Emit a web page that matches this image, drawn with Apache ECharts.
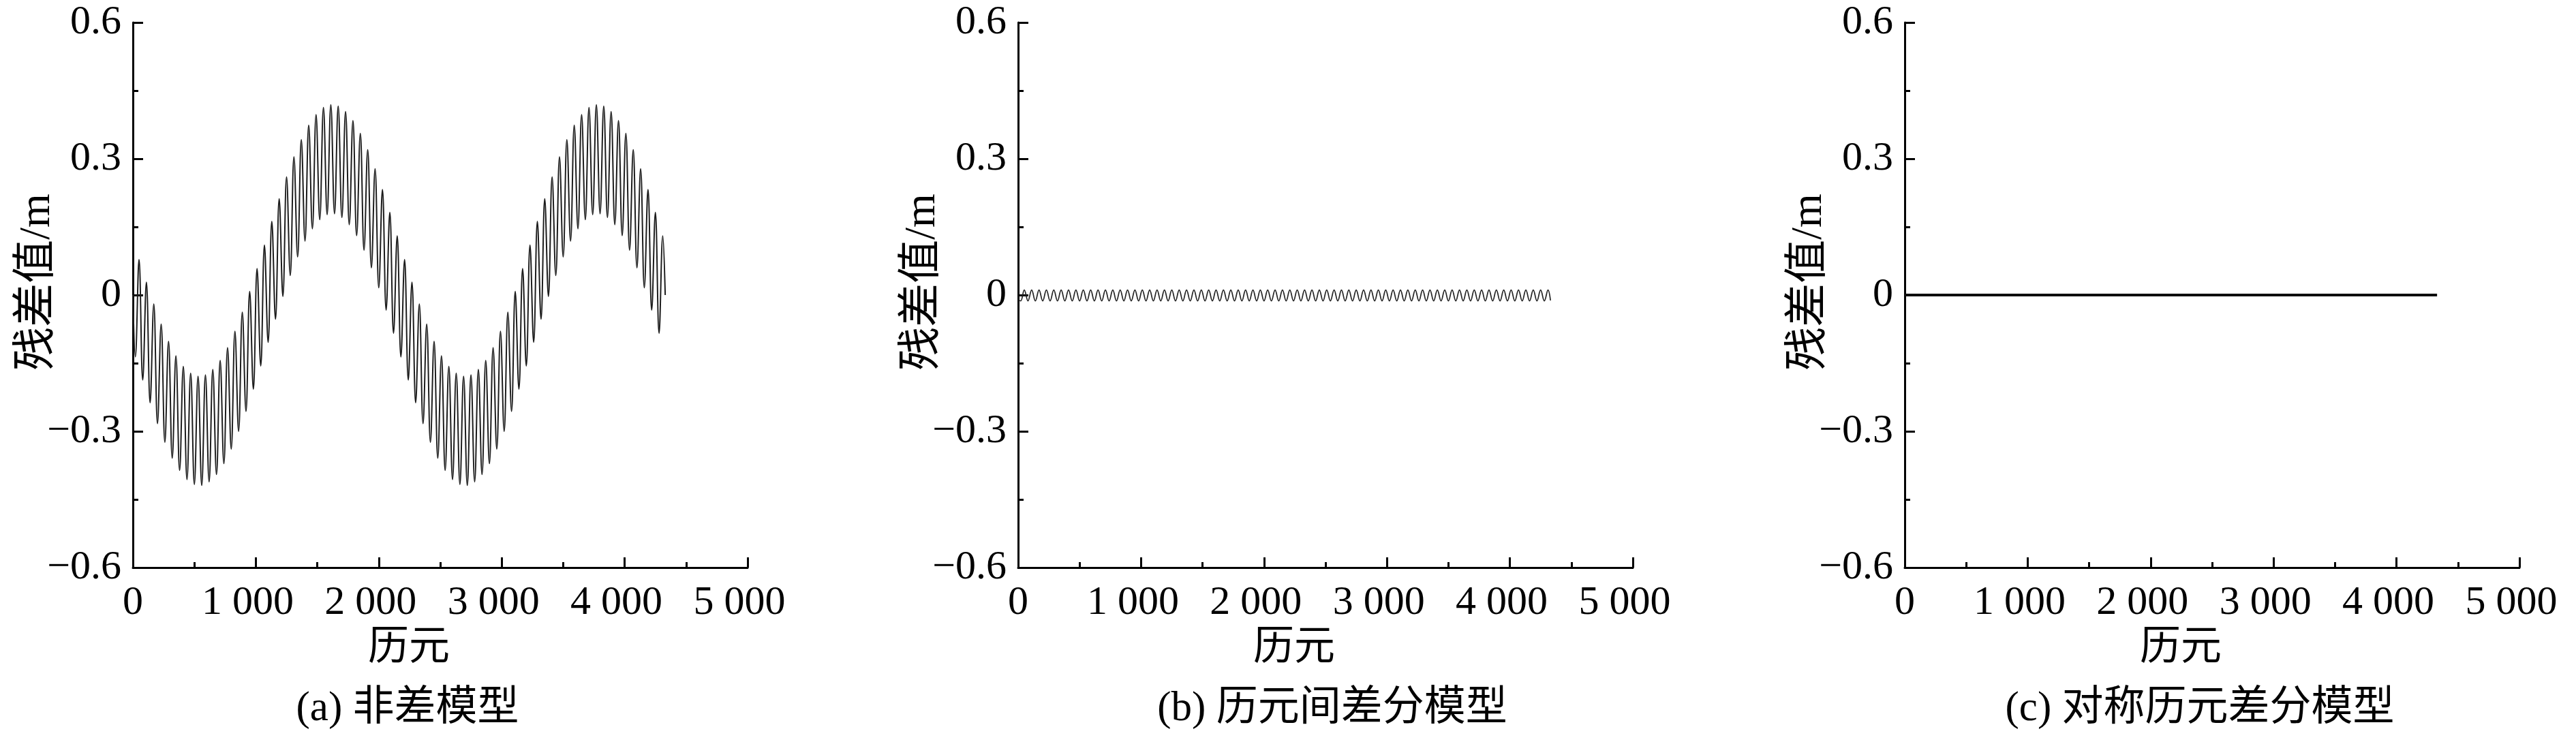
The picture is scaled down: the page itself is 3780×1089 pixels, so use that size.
<!DOCTYPE html>
<html>
<head>
<meta charset="utf-8">
<script src="https://cdn.jsdelivr.net/npm/echarts@6/dist/echarts.min.js"></script>
<style>
html,body{margin:0;padding:0;background:#fff;}
#chart{width:3780px;height:1089px;}
</style>
</head>
<body>
<div id="chart"></div>
<script>
// ---------- data ----------
// epochs at which the residual curves of panels (a) and (b) turn (start, extremes, end)
const epochs = [0,
  20,50,80,110,140,170,200,230,260,290,320,350,380,410,440,470,500,530,560,590,
  620,650,680,710,740,770,800,830,860,890,920,950,980,1010,1040,1070,1100,1130,1160,1190,
  1220,1250,1280,1310,1340,1370,1400,1430,1460,1490,1520,1550,1580,1610,1640,1670,1700,1730,1760,1790,
  1820,1850,1880,1910,1940,1970,2000,2030,2060,2090,2120,2150,2180,2210,2240,2270,2300,2330,2360,2390,
  2420,2450,2480,2510,2540,2570,2600,2630,2660,2690,2720,2750,2780,2810,2840,2870,2900,2930,2960,2990,
  3020,3050,3080,3110,3140,3170,3200,3230,3260,3290,3320,3350,3380,3410,3440,3470,3500,3530,3560,3590,
  3620,3650,3680,3710,3740,3770,3800,3830,3860,3890,3920,3950,3980,4010,4040,4070,4100,4130,4160,4190,
  4220,4250,4280,4310,
  4330];

// (a) 非差模型 residuals (m)
const residualA = [0.000,
  -0.136,0.078,-0.187,0.028,-0.237,-0.020,-0.283,-0.064,-0.324,-0.102,-0.359,-0.134,-0.386,-0.157,-0.406,-0.172,-0.417,-0.179,-0.419,-0.176,
  -0.411,-0.164,-0.395,-0.144,-0.371,-0.116,-0.339,-0.080,-0.300,-0.038,-0.256,0.008,-0.207,0.058,-0.156,0.110,-0.104,0.162,-0.053,0.212,
  -0.003,0.260,0.043,0.304,0.084,0.342,0.119,0.374,0.146,0.397,0.166,0.413,0.177,0.419,0.179,0.416,0.171,0.404,0.155,0.384,
  0.131,0.356,0.099,0.320,0.060,0.278,0.016,0.232,-0.033,0.182,-0.084,0.130,
  -0.136,0.078,-0.187,0.028,-0.237,-0.020,-0.283,-0.064,-0.324,-0.102,-0.359,-0.134,-0.386,-0.157,-0.406,-0.172,-0.417,-0.179,-0.419,-0.176,
  -0.411,-0.164,-0.395,-0.144,-0.371,-0.116,-0.339,-0.080,-0.300,-0.038,-0.256,0.008,-0.207,0.058,-0.156,0.110,-0.104,0.162,-0.053,0.212,
  -0.003,0.260,0.043,0.304,0.084,0.342,0.119,0.374,0.146,0.397,0.166,0.413,0.177,0.419,0.179,0.416,0.171,0.404,0.155,0.384,
  0.131,0.356,0.099,0.320,0.060,0.278,0.016,0.232,-0.033,0.182,-0.084,0.130,
  0.000];

// (b) 历元间差分模型 residuals (m)
const residualB = [-0.010,
  -0.013,0.011,-0.013,0.011,-0.013,0.011,-0.013,0.011,-0.013,0.011,-0.013,0.011,-0.013,0.011,-0.013,0.011,-0.013,0.011,-0.013,0.011,
  -0.013,0.011,-0.013,0.011,-0.013,0.011,-0.013,0.011,-0.013,0.011,-0.013,0.011,-0.013,0.011,-0.013,0.011,-0.013,0.011,-0.013,0.011,
  -0.013,0.011,-0.013,0.011,-0.013,0.011,-0.013,0.011,-0.013,0.011,-0.013,0.011,-0.013,0.011,-0.013,0.011,-0.013,0.011,-0.013,0.011,
  -0.013,0.011,-0.013,0.011,-0.013,0.011,-0.013,0.011,-0.013,0.011,-0.013,0.011,
  -0.013,0.011,-0.013,0.011,-0.013,0.011,-0.013,0.011,-0.013,0.011,-0.013,0.011,-0.013,0.011,-0.013,0.011,-0.013,0.011,-0.013,0.011,
  -0.013,0.011,-0.013,0.011,-0.013,0.011,-0.013,0.011,-0.013,0.011,-0.013,0.011,-0.013,0.011,-0.013,0.011,-0.013,0.011,-0.013,0.011,
  -0.013,0.011,-0.013,0.011,-0.013,0.011,-0.013,0.011,-0.013,0.011,-0.013,0.011,-0.013,0.011,-0.013,0.011,-0.013,0.011,-0.013,0.011,
  -0.013,0.011,-0.013,0.011,-0.013,0.011,-0.013,0.011,-0.013,0.011,-0.013,0.011,
  -0.012];

// (c) 对称历元差分模型 residuals (m)
const epochsC = [0, 4330];
const residualC = [0, 0];

const xTickLabels = {0: '0', 1000: '1 000', 2000: '2 000', 3000: '3 000', 4000: '4 000', 5000: '5 000'};
const yTickLabels = {'-0.6': '\u22120.6', '-0.3': '\u22120.3', '0': '0', '0.3': '0.3', '0.6': '0.6'};
const captions = ['(a) 非差模型', '(b) 历元间差分模型', '(c) 对称历元差分模型'];
const yName = '残差值/m';
const xName = '历元';

// ---------- layout ----------
const LATIN = '"Liberation Serif", "Times New Roman", "Noto Sans CJK SC", serif';
const MIXED = '"Liberation Serif", "Noto Sans CJK SC", serif';
const plotLefts = [195, 1494, 2795];
const captionCenters = [598, 1955, 3228];
const plotW = 902, plotTop = 33, plotH = 800;

const chart = echarts.init(document.getElementById('chart'), null, {renderer: 'canvas'});

const grids = [], xAxes = [], yAxes = [], series = [], graphics = [];
const seriesData = [
  epochs.map((e, i) => [e, residualA[i]]),
  epochs.map((e, i) => [e, residualB[i]]),
  epochsC.map((e, i) => [e, residualC[i]])
];
const lineStyles = [
  {color: '#1c1c1c', width: 2},
  {color: '#222222', width: 1.7},
  {color: '#0d0d0d', width: 4}
];

plotLefts.forEach((left, k) => {
  grids.push({left: left, top: plotTop, width: plotW, height: plotH, containLabel: false});
  xAxes.push({
    type: 'value', gridIndex: k, min: 0, max: 5000, interval: 1000,
    axisLine: {show: true, onZero: false, lineStyle: {color: '#000', width: 3}},
    axisTick: {show: true, inside: true, length: 15, lineStyle: {color: '#000', width: 3}},
    minorTick: {show: true, splitNumber: 2, length: 8, lineStyle: {color: '#000', width: 3}},
    splitLine: {show: false},
    axisLabel: {
      margin: 22,
      formatter: v => v === 0 ? '{z|0}' : '{n|' + xTickLabels[v] + '}',
      rich: {
        z: {fontFamily: LATIN, fontSize: 60, color: '#000'},
        n: {fontFamily: LATIN, fontSize: 60, color: '#000', padding: [0, 24, 0, 0]}
      }
    }
  });
  yAxes.push({
    type: 'value', gridIndex: k, min: -0.6, max: 0.6, interval: 0.3,
    axisLine: {show: true, onZero: false, lineStyle: {color: '#000', width: 3}},
    axisTick: {show: true, inside: true, length: 15, lineStyle: {color: '#000', width: 3}},
    minorTick: {show: true, splitNumber: 2, length: 8, lineStyle: {color: '#000', width: 3}},
    splitLine: {show: false},
    axisLabel: {
      margin: 17, fontFamily: LATIN, fontSize: 60, color: '#000',
      formatter: v => yTickLabels[String(Math.round(v * 10) / 10)]
    }
  });
  series.push({
    type: 'line', xAxisIndex: k, yAxisIndex: k,
    data: seriesData[k], showSymbol: false, symbol: 'none',
    smooth: k === 2 ? false : 0.4,
    lineStyle: lineStyles[k], animation: false
  });
  // y-axis title
  graphics.push({
    type: 'text', x: left - 140, y: 414, rotation: Math.PI / 2,
    style: {text: yName, x: 0, y: 0, textAlign: 'center', textVerticalAlign: 'middle',
      font: '64px ' + MIXED, fill: '#000'}
  });
  // x-axis title
  graphics.push({
    type: 'text', x: left + plotW / 2 - 46, y: 952,
    style: {text: xName, x: 0, y: 0, textAlign: 'center', textVerticalAlign: 'middle',
      font: '60px ' + MIXED, fill: '#000'}
  });
  // caption
  graphics.push({
    type: 'text', x: captionCenters[k], y: 1041,
    style: {text: captions[k], x: 0, y: 0, textAlign: 'center', textVerticalAlign: 'middle',
      font: '61px ' + MIXED, fill: '#000'}
  });
});

chart.setOption({
  backgroundColor: '#ffffff',
  animation: false,
  grid: grids, xAxis: xAxes, yAxis: yAxes, series: series,
  graphic: graphics
});
</script>
</body>
</html>
